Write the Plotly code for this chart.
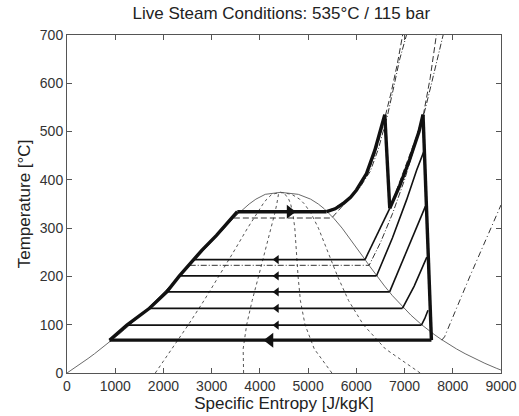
import plotly.graph_objects as go

# ---------------- data ----------------
# saturation dome (steam table), T in degC, s in J/kgK
dome_T = [0.01, 10, 20, 30, 40, 50, 60, 70, 80, 90, 100, 120, 140, 160, 180, 200, 220, 240,
          260, 280, 300, 320, 330, 340, 350, 360, 370, 374.14]
dome_sf = [0, 151, 297, 437, 572, 704, 831, 955, 1076, 1193, 1307, 1528, 1739, 1943, 2139, 2331,
           2518, 2702, 2885, 3069, 3255, 3449, 3552, 3660, 3778, 3917, 4111, 4430]
dome_sg = [9156, 8900, 8666, 8452, 8256, 8075, 7909, 7755, 7612, 7479, 7354, 7130, 6930, 6750,
           6586, 6432, 6286, 6144, 6002, 5857, 5705, 5536, 5442, 5336, 5211, 5053, 4797, 4430]

# constant-quality lines x = 0.2, 0.4, 0.6, 0.8 (read at these temperatures)
q_T = [0, 50, 100, 150, 200, 250, 300, 330, 350, 360, 370, 374.14]
q02 = [1831, 2178, 2517, 2841, 3151, 3449, 3744, 3929, 4064, 4142, 4248, 4430]
q04 = [3662, 3653, 3726, 3840, 3972, 4105, 4234, 4307, 4351, 4370, 4385, 4430]
q06 = [5493, 5127, 4936, 4840, 4792, 4761, 4724, 4685, 4638, 4597, 4523, 4430]
q08 = [7324, 6602, 6145, 5839, 5612, 5417, 5214, 5064, 4925, 4825, 4660, 4430]

# thick cycle: pump/feedwater heating line
fw_s = [882, 1242, 1710, 2070, 2331, 2620, 2795, 3100, 3532]
fw_T = [68, 99, 134, 168, 201, 235, 254, 285, 334]
# evaporation
ev_s = [3532, 5383]
ev_T = [334, 334]
# superheating
sh_s = [5383, 5560, 5727, 5880, 6004, 6211, 6383, 6522, 6590]
sh_T = [334, 340, 351, 364, 379, 413, 461, 510, 535]
# HP turbine
hp_s = [6590, 6693]
hp_T = [535, 341]
# reheat
rh_s = [6693, 6900, 7100, 7300, 7383]
rh_T = [341, 388, 440, 500, 535]
# LP turbine
lp_s = [7383, 7557]
lp_T = [535, 68]
# condensation
cd_s = [7557, 882]
cd_T = [68, 68]

# feedwater-heater condensation lines (T, s_left, s_right)
fh_T = [235, 201, 168, 134, 99]
fh_sl = [2620, 2331, 2070, 1710, 1242]
fh_sr = [6180, 6418, 6690, 6956, 7350]

# extraction isobars in the superheated region
ex1_s = [6180, 6420, 6693]
ex1_T = [235, 285, 341]
ex2_s = [6418, 6750, 7040, 7250, 7405]
ex2_T = [201, 280, 358, 420, 460]
ex3_s = [6690, 6950, 7200, 7432]
ex3_T = [168, 230, 290, 345]
ex4_s = [6956, 7200, 7462]
ex4_T = [134, 180, 240]
ex5_s = [7350, 7420, 7486]
ex5_T = [99, 113, 130]

# live-steam isobar (dashed) and companion (dash-dot)
pA_s = [3460, 5490, 5750, 6030, 6240, 6410, 6545, 6610, 6720, 6850, 6960]
pA_T = [321, 321, 350, 381, 414, 461, 510, 534, 580, 640, 700]
pA2_s = [5383, 5800, 6080, 6290, 6460, 6590, 6650, 6760, 6900, 7040]
pA2_T = [334, 355, 385, 418, 465, 512, 535, 585, 650, 700]
# reheat-pressure isobar (dash-dot) and companion (dashed)
pB_s = [2545, 6265, 6500, 6750, 7000, 7200, 7400, 7560, 7700, 7800]
pB_T = [223, 223, 270, 330, 400, 465, 535, 600, 660, 700]
pB2_s = [6693, 7000, 7250, 7400, 7530, 7660]
pB2_T = [341, 422, 490, 540, 610, 700]
# condenser-side isobar (dash-dot)
pC_s = [7770, 7830, 8350, 8970, 9000]
pC_T = [68, 75, 199, 341, 348]

# arrows on lines (position, direction)
arrL_s = [4348, 4348, 4348, 4348, 4348]
arrL_T = fh_T
arrBig_s = [4210]
arrBig_T = [68]
arrR_s = [4620]
arrR_T = [334]

x_ticks = [0, 1000, 2000, 3000, 4000, 5000, 6000, 7000, 8000, 9000]
y_ticks = [0, 100, 200, 300, 400, 500, 600, 700]

# ---------------- figure ----------------
fig = go.Figure()
GRAY = "#6a6a6a"
BLK = "#111111"


def line(xs, ys, color=BLK, width=1.2, dash="solid"):
    fig.add_trace(go.Scatter(x=xs, y=ys, mode="lines",
                             line=dict(color=color, width=width, dash=dash),
                             hoverinfo="skip", showlegend=False))


# dome
line(dome_sf + dome_sg[::-1], dome_T + dome_T[::-1], color=GRAY, width=1.0)
# quality lines
for q in (q02, q04, q06, q08):
    line(q, q_T, color="#555555", width=1.0, dash="3px,3px")
# isobars
line(pA_s, pA_T, color="#333333", width=1.0, dash="6px,3px")
line(pA2_s, pA2_T, color="#333333", width=1.0, dash="6px,2px,1px,2px")
line(pB_s, pB_T, color="#333333", width=1.0, dash="6px,2px,1px,2px")
line(pB2_s, pB2_T, color="#333333", width=1.0, dash="6px,3px")
line(pC_s, pC_T, color="#333333", width=1.0, dash="6px,3px,1px,3px")

# extraction isobars
for xs, ys in ((ex1_s, ex1_T), (ex2_s, ex2_T), (ex3_s, ex3_T), (ex4_s, ex4_T), (ex5_s, ex5_T)):
    line(xs, ys, width=1.6)
# heater lines
for T, sl, sr in zip(fh_T, fh_sl, fh_sr):
    line([sl, sr], [T, T], width=1.8)

# thick cycle
for xs, ys in ((fw_s, fw_T), (ev_s, ev_T), (sh_s, sh_T), (hp_s, hp_T), (rh_s, rh_T),
               (lp_s, lp_T), (cd_s, cd_T)):
    line(xs, ys, width=3.4)

# arrows
fig.add_trace(go.Scatter(x=arrL_s, y=arrL_T, mode="markers",
                         marker=dict(symbol="triangle-left", size=8, color=BLK),
                         hoverinfo="skip", showlegend=False))
fig.add_trace(go.Scatter(x=arrBig_s, y=arrBig_T, mode="markers",
                         marker=dict(symbol="triangle-left", size=13, color=BLK),
                         hoverinfo="skip", showlegend=False))
fig.add_trace(go.Scatter(x=arrR_s, y=arrR_T, mode="markers",
                         marker=dict(symbol="triangle-right", size=12, color=BLK),
                         hoverinfo="skip", showlegend=False))

axis_common = dict(showgrid=False, zeroline=False, showline=True, linecolor="#555555",
                   linewidth=1, mirror="allticks", ticks="inside", ticklen=5,
                   tickcolor="#555555", tickfont=dict(size=14, color="#333333"),
                   automargin=False)

fig.update_layout(
    width=519, height=416,
    margin=dict(l=67, r=18, t=35, b=43),
    paper_bgcolor="white", plot_bgcolor="white",
    hovermode=False,
    font=dict(family="Liberation Sans, Arial, sans-serif", color="#222222"),
    title=dict(text="Live Steam Conditions: 535°C / 115 bar", x=0.542, xanchor="center",
               y=0.969, yanchor="middle", font=dict(size=17, color="#222222")),
    xaxis=dict(range=[0, 9000], tickvals=x_ticks, ticktext=[str(v) for v in x_ticks],
               title=dict(text="Specific Entropy [J/kgK]", font=dict(size=17), standoff=2),
               **axis_common),
    yaxis=dict(range=[0, 700], tickvals=y_ticks, ticktext=[str(v) for v in y_ticks],
               title=dict(text="Temperature [°C]", font=dict(size=17), standoff=4),
               **axis_common),
)

fig.write_html("out.html",
               config={"displayModeBar": False, "staticPlot": True},
               post_script="document.body.style.margin='0';document.body.style.overflow='hidden';")
